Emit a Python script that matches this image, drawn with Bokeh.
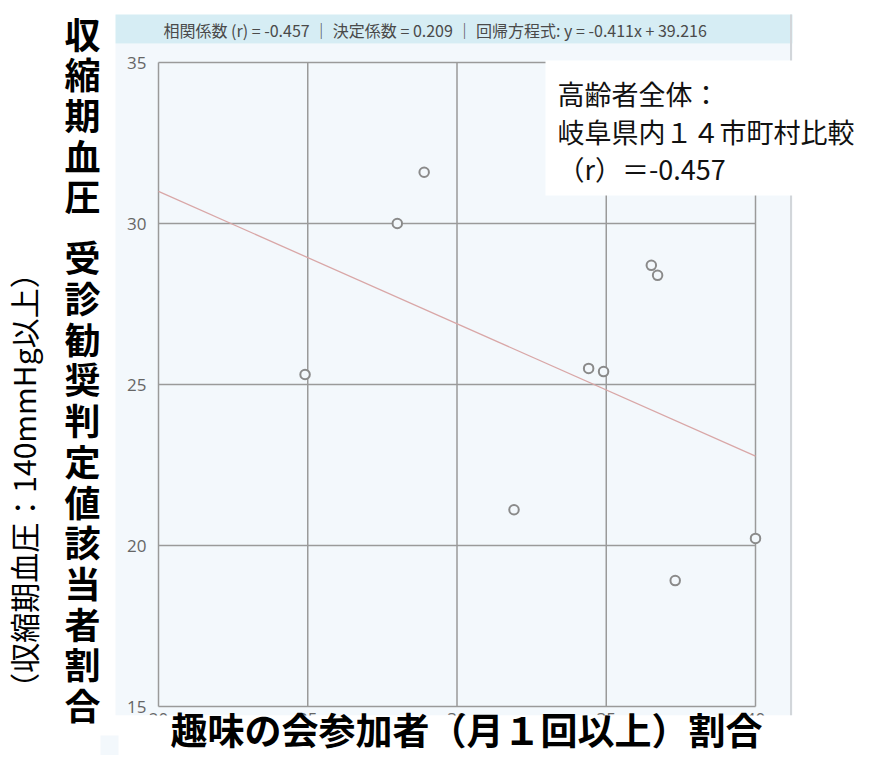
import math
from bokeh.plotting import figure
from bokeh.models import Label, BoxAnnotation, FixedTicker, Range1d, LinearAxis
from bokeh.embed import file_html
from bokeh.resources import INLINE

# ---- data ----
hobby_rate = [24.91, 28.0, 28.9, 31.91, 34.41, 34.91, 36.51, 36.72, 37.31, 40.0]
bp_rate = [25.31, 30.0, 31.59, 21.11, 25.5, 25.4, 28.7, 28.39, 18.91, 20.22]
slope = -0.411
intercept = 39.216
r_value = -0.457
r2_value = 0.209
x_ticks = [20, 25, 30, 35, 40]
y_ticks = [15, 20, 25, 30, 35]

header_text = ("相関係数 (r) = %.3f  ｜ 決定係数 =  %.3f ｜ 回帰方程式: y = %.3fx  + %.3f"
               % (r_value, r2_value, slope, intercept))
box_lines = ["高齢者全体：", "岐阜県内１４市町村比較", "（r）＝%.3f" % r_value]
y_title_1 = "収縮期血圧"
y_title_2 = "受診勧奨判定値該当者割合"
y_subtitle = "（収縮期血圧：140mmHg以上）"
x_title = "趣味の会参加者（月１回以上）割合"

# ---- layout (pixels on the canvas) ----
W, H = 880, 755
CH_L, CH_R, CH_T, CH_B = 158, 755, 62, 706   # chart box in canvas pixels

PANEL = "#f3f8fc"
HEADER = "#d6edf4"
GRID = "#9a9a9a"
CJK = "Noto Sans CJK JP"

x0, x1 = x_ticks[0], x_ticks[-1]
y0, y1 = y_ticks[0], y_ticks[-1]
pxu = (CH_R - CH_L) / (x1 - x0)
pyu = (CH_B - CH_T) / (y1 - y0)
xr = Range1d(x0 - CH_L / pxu, x1 + (W - CH_R) / pxu)
yr = Range1d(y0 - (H - CH_B) / pyu, y1 + CH_T / pyu)

p = figure(width=W, height=H, output_backend="svg", toolbar_location=None,
           x_range=xr, y_range=yr, min_border=0, title=None,
           x_axis_location=None, y_axis_location=None)
p.border_fill_color = "white"
p.background_fill_color = "white"
p.outline_line_color = None
p.grid.visible = False


def sx(X):
    return X


def sy(Y):
    return H - Y


def box(xa, xb, ya, yb, color, level, line_color=None):
    b = BoxAnnotation(left=sx(xa), right=sx(xb), top=sy(ya), bottom=sy(yb),
                      left_units="screen", right_units="screen",
                      top_units="screen", bottom_units="screen",
                      fill_color=color, fill_alpha=1.0, line_color=line_color,
                      level=level)
    p.add_layout(b)
    return b


def label(X, Y, txt, size, bold=False, align="left", angle=0.0,
          color="#000000", level="overlay"):
    p.add_layout(Label(x=sx(X), y=sy(Y), x_units="screen", y_units="screen",
                       text=txt, text_font=CJK, text_font_size=size,
                       text_font_style="bold" if bold else "normal",
                       text_color=color, text_align=align,
                       text_baseline="middle", angle=angle, level=level))


# light panel of the screenshot and its header bar
box(115, 792, 43, 715, PANEL, "image")
box(115, 792, 14, 43, HEADER, "image")
box(789.5, 791.5, 14, 715, "#d2d6da", "image")

# axes placed at the chart box
yaxis = LinearAxis(fixed_location=x0, ticker=FixedTicker(ticks=y_ticks), bounds=(y0, y1))
xaxis = LinearAxis(fixed_location=y0, ticker=FixedTicker(ticks=x_ticks), bounds=(x0, x1))
for ax in (xaxis, yaxis):
    ax.axis_line_color = None
    ax.major_tick_line_color = None
    ax.minor_tick_line_color = None
    ax.major_label_text_font = "Open Sans"
    ax.major_label_text_font_size = "17px"
    ax.major_label_text_color = "#666666"
yaxis.major_label_standoff = 6
xaxis.major_label_standoff = 0
p.add_layout(yaxis, "left")
p.add_layout(xaxis, "below")

# grid lines (incl. box edges) from the tick lists
p.segment(x0=x_ticks, y0=[y0] * len(x_ticks), x1=x_ticks, y1=[y1] * len(x_ticks),
          line_color=GRID, line_width=1.5)
p.segment(x0=[x0] * len(y_ticks), y0=y_ticks, x1=[x1] * len(y_ticks), y1=y_ticks,
          line_color=GRID, line_width=1.5)

# regression line and points
line_x = [x0, x1]
line_y = [intercept + slope * v for v in line_x]
p.line(line_x, line_y, line_color="#d9a7a7", line_width=1.3)
p.scatter(hobby_rate, bp_rate, size=9.5, fill_color=PANEL, line_color="#8a8a8a",
          line_width=2)

label(163, 29, header_text, "16px", color="#4a4a4a", level="annotation")

# white covers (text box and cut-off bottom)
box(545, 900, 60, 195, "white", "overlay")
box(-50, 900, 715, 800, "white", "overlay")
box(100, 118, 735, 767, PANEL, "overlay")

for txt, yy in zip(box_lines, [93, 131, 168]):
    label(557, yy, txt, "27px", color="#111111")

# vertical (upright) y title, one character per row
pitch = 40.7
for i, ch in enumerate(y_title_1):
    label(82, 32 + i * pitch, ch, "36px", bold=True, align="center")
start2 = 32 + (len(y_title_1) - 1) * pitch + 1.5 * pitch
for i, ch in enumerate(y_title_2):
    label(82, start2 + i * pitch, ch, "36px", bold=True, align="center")

label(22, 480, y_subtitle, "30px", align="center", angle=math.pi / 2)
label(466, 728.5, x_title, "37px", bold=True, align="center")

open("out.html", "w").write(file_html(p, INLINE))
